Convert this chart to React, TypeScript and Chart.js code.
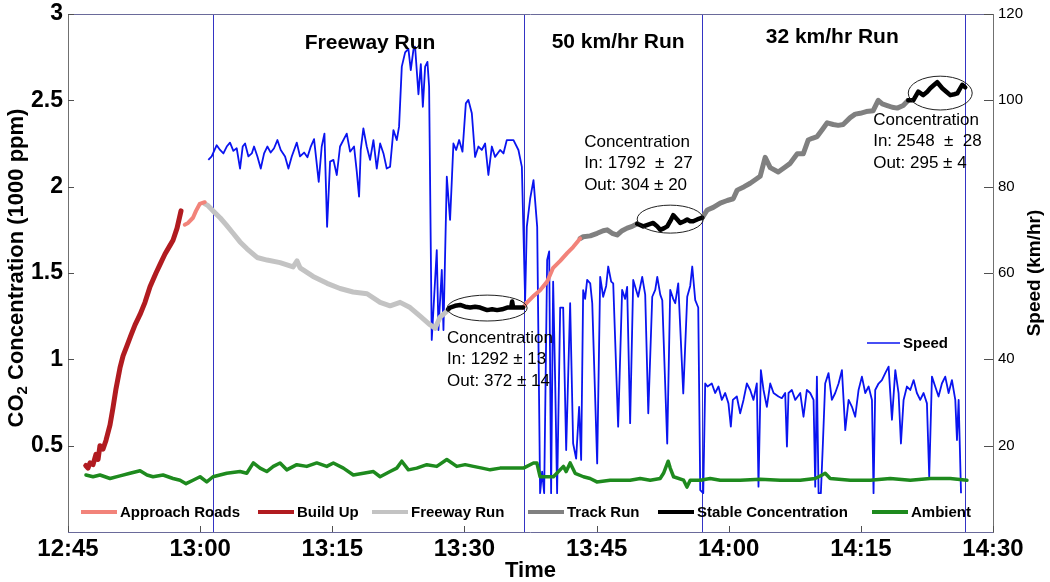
import React, { useEffect, useRef } from 'react';
import { Chart, registerables } from 'chart.js';

Chart.register(...registerables);

// ---------- axis ticks ----------
const xTickLabels = ['12:45', '13:00', '13:15', '13:30', '13:45', '14:00', '14:15', '14:30'];
// minutes after 12:45
const runBoundaries = [16.46, 51.78, 72.0, 101.85];

// ---------- CO2 (1000 ppm) ----------
const buildUpTime = [2.01, 2.27, 2.5, 2.84, 3.18, 3.41, 3.63, 3.97, 4.31, 4.77, 5.11, 5.45, 5.9, 6.25, 6.7, 7.15, 7.61, 8.18, 8.74, 9.31, 9.99, 10.45, 11.01, 11.58, 11.92, 12.38, 12.83];
const buildUpCO2 = [0.385, 0.37, 0.4, 0.39, 0.45, 0.42, 0.5, 0.48, 0.53, 0.62, 0.72, 0.83, 0.95, 1.02, 1.08, 1.14, 1.2, 1.26, 1.33, 1.42, 1.5, 1.55, 1.61, 1.66, 1.69, 1.76, 1.86];

const approach1Time = [13.25, 13.63, 14.19, 14.53, 14.95, 15.52];
const approach1CO2 = [1.78, 1.79, 1.82, 1.86, 1.9, 1.91];

const freewayTime = [15.56, 15.9, 16.46, 17.26, 17.94, 18.74, 19.53, 20.32, 21.46, 22.6, 24.07, 25.55, 26.0, 26.34, 27.82, 29.41, 30.88, 32.36, 33.95, 35.43, 36.56, 37.7, 38.83, 39.97, 41.1, 41.67, 42.24, 43.15];
const freewayCO2 = [1.9, 1.89, 1.86, 1.82, 1.78, 1.73, 1.68, 1.64, 1.59, 1.575, 1.56, 1.535, 1.57, 1.53, 1.48, 1.44, 1.41, 1.39, 1.38, 1.33, 1.31, 1.33, 1.3, 1.25, 1.2, 1.18, 1.245, 1.285];

const stable1Time = [43.15, 43.37, 43.94, 44.51, 45.08, 45.65, 46.21, 46.78, 47.58, 48.14, 48.71, 49.28, 49.85, 50.3, 50.42, 50.53, 51.1, 51.66];
const stable1CO2 = [1.29, 1.3, 1.31, 1.315, 1.305, 1.3, 1.305, 1.3, 1.285, 1.29, 1.285, 1.29, 1.3, 1.3, 1.335, 1.3, 1.3, 1.3];

const approach2Time = [51.66, 52.12, 52.91, 53.59, 54.39, 55.07, 55.87, 56.66, 57.34, 58.14];
const approach2CO2 = [1.3, 1.33, 1.37, 1.4, 1.45, 1.53, 1.57, 1.615, 1.65, 1.7];

const track50Time = [58.14, 58.48, 59.28, 60.07, 60.75, 61.2, 61.77, 62.33, 62.9, 63.47, 64.04, 64.61];
const track50CO2 = [1.7, 1.71, 1.715, 1.73, 1.745, 1.75, 1.73, 1.72, 1.745, 1.76, 1.77, 1.785];

const stable2Time = [64.61, 65.3, 65.87, 66.43, 66.89, 67.23, 67.68, 68.02, 68.36, 68.7, 69.16, 69.5, 69.95, 70.29, 70.63, 70.97, 71.43, 72.0];
const stable2CO2 = [1.785, 1.77, 1.78, 1.79, 1.77, 1.75, 1.76, 1.77, 1.8, 1.835, 1.81, 1.79, 1.8, 1.81, 1.8, 1.8, 1.81, 1.82];

const track32Time = [72.0, 72.57, 73.25, 74.04, 74.83, 75.51, 75.96, 76.76, 77.44, 78.01, 78.57, 79.14, 79.71, 80.62, 81.3, 81.98, 82.78, 83.46, 84.02, 84.48, 85.04, 85.61, 86.18, 86.86, 87.43, 87.99, 88.79, 89.36, 89.93, 90.61, 91.4, 91.97, 92.43, 93.0, 93.56, 94.13, 94.81, 95.38];
const track32CO2 = [1.82, 1.865, 1.88, 1.905, 1.92, 1.93, 1.98, 2.0, 2.02, 2.04, 2.06, 2.17, 2.11, 2.085, 2.11, 2.135, 2.19, 2.19, 2.27, 2.28, 2.29, 2.33, 2.37, 2.36, 2.355, 2.36, 2.4, 2.42, 2.425, 2.435, 2.44, 2.5, 2.48, 2.47, 2.46, 2.455, 2.47, 2.5];

const stable3Time = [95.38, 95.95, 96.52, 97.08, 97.54, 97.88, 98.33, 98.67, 99.24, 99.7, 100.15, 100.6, 100.95, 101.28, 101.51, 101.85];
const stable3CO2 = [2.5, 2.5, 2.55, 2.53, 2.55, 2.57, 2.59, 2.605, 2.57, 2.55, 2.53, 2.535, 2.54, 2.57, 2.59, 2.575];

const ambientTime = [2.04, 2.84, 3.63, 4.77, 5.9, 7.04, 8.18, 8.97, 9.65, 10.79, 11.92, 12.72, 13.4, 14.19, 14.99, 15.75, 16.46, 18.02, 19.53, 20.29, 21.04, 21.8, 22.56, 23.31, 24.07, 24.83, 25.97, 27.1, 28.24, 29.37, 30.12, 31.26, 32.39, 33.53, 34.67, 35.43, 36.56, 37.32, 37.89, 38.64, 39.59, 40.73, 41.86, 43.0, 44.13, 45.08, 46.02, 47.01, 47.92, 49.05, 50.19, 51.7, 52.84, 53.22, 53.59, 55.1, 56.24, 56.55, 57.0, 57.57, 58.51, 59.27, 60.03, 61.54, 62.68, 63.81, 64.95, 66.09, 67.22, 67.6, 68.13, 68.36, 68.74, 69.88, 70.26, 70.63, 71.77, 72.9, 74.03, 76.3, 78.57, 80.85, 83.12, 84.82, 85.61, 85.95, 86.52, 88.79, 91.06, 93.33, 95.61, 97.88, 100.15, 102.04];
const ambientCO2 = [0.33, 0.32, 0.33, 0.31, 0.325, 0.34, 0.355, 0.33, 0.32, 0.33, 0.31, 0.3, 0.28, 0.3, 0.32, 0.29, 0.32, 0.34, 0.35, 0.34, 0.4, 0.37, 0.35, 0.38, 0.4, 0.36, 0.39, 0.38, 0.4, 0.38, 0.4, 0.37, 0.33, 0.34, 0.35, 0.32, 0.35, 0.37, 0.41, 0.36, 0.37, 0.39, 0.38, 0.42, 0.38, 0.39, 0.38, 0.37, 0.36, 0.37, 0.37, 0.37, 0.4, 0.4, 0.32, 0.32, 0.38, 0.35, 0.4, 0.34, 0.32, 0.31, 0.29, 0.3, 0.3, 0.3, 0.31, 0.3, 0.31, 0.34, 0.41, 0.37, 0.32, 0.3, 0.26, 0.3, 0.3, 0.31, 0.3, 0.3, 0.305, 0.3, 0.3, 0.31, 0.33, 0.34, 0.31, 0.3, 0.3, 0.31, 0.3, 0.31, 0.31, 0.3];

// ---------- speed (km/hr) ----------
const freewaySpeedTime = [15.93, 16.31, 16.88, 17.26, 17.64, 18.02, 18.39, 18.77, 19.15, 19.53, 19.83, 20.1, 20.48, 20.86, 21.12, 21.5, 21.88, 22.26, 22.63, 23.01, 23.39, 23.77, 24.15, 24.64, 25.02, 25.4, 25.97, 26.34, 26.8, 27.18, 27.56, 27.93, 28.46, 28.8, 29.11, 29.41, 29.75, 30.13, 30.51, 30.88, 31.64, 32.02, 32.47, 32.78, 33.04, 33.23, 33.53, 33.91, 34.29, 34.67, 35.05, 35.43, 35.81, 36.18, 36.56, 36.94, 37.32, 37.58, 37.89, 38.27, 38.64, 38.91, 39.21, 39.4, 39.78, 40.05, 40.28, 40.54, 40.8, 40.99, 41.29, 41.86, 42.05, 42.43, 42.62, 43.0, 43.37, 43.57, 43.75, 44.06, 44.4, 44.78, 45.16, 45.45, 45.84, 46.21, 46.59, 46.97, 47.35, 47.72, 48.11, 48.48, 49.05, 49.43, 49.81, 50.57, 51.13, 51.52, 51.89, 52.08, 52.46, 52.84, 53.26];
const freewaySpeed = [86.2, 87.0, 89.6, 88.5, 87.7, 89.3, 90.2, 88.3, 88.9, 84.2, 89.3, 90.0, 87.0, 87.7, 89.3, 87.0, 84.2, 87.7, 89.3, 87.9, 88.9, 90.8, 88.5, 87.0, 84.2, 87.0, 90.2, 87.0, 87.9, 86.8, 89.3, 91.0, 81.1, 89.3, 92.3, 70.7, 85.8, 86.2, 82.7, 89.3, 92.3, 88.1, 89.3, 83.5, 77.7, 88.5, 93.5, 89.3, 86.2, 90.8, 84.2, 90.0, 87.7, 84.2, 84.6, 93.1, 90.8, 93.9, 107.8, 111.1, 111.9, 107.0, 111.7, 112.4, 101.4, 108.4, 98.5, 107.8, 108.9, 103.2, 44.5, 65.3, 46.8, 60.7, 46.8, 82.3, 72.3, 81.5, 90.0, 88.5, 90.8, 88.1, 99.3, 100.1, 97.0, 86.9, 89.3, 88.5, 90.0, 82.7, 89.3, 86.9, 88.5, 87.7, 90.8, 90.8, 88.5, 84.6, 53.7, 70.7, 77.2, 81.5, 70.7];

const run50SpeedTime = [53.59, 53.82, 54.05, 54.39, 54.62, 54.84, 55.07, 55.3, 55.52, 55.87, 56.21, 56.55, 57.0, 57.34, 57.68, 58.02, 58.25, 58.48, 58.7, 58.93, 59.28, 59.51, 60.07, 60.41, 60.75, 61.09, 61.32, 61.66, 61.89, 62.45, 62.9, 63.24, 63.47, 63.81, 64.16, 64.5, 64.72, 65.18, 65.52, 65.87, 66.32, 66.66, 66.89, 67.23, 67.46, 68.02, 68.36, 68.7, 68.93, 69.27, 69.84, 70.29, 70.63, 70.86, 71.2, 71.54, 71.77, 72.11];
const run50Speed = [9.0, 14.0, 9.0, 63.0, 65.0, 9.0, 58.0, 35.0, 9.0, 52.0, 52.0, 19.0, 53.0, 20.5, 17.0, 29.0, 16.7, 56.0, 54.0, 58.4, 57.6, 53.0, 15.9, 59.1, 54.5, 57.0, 61.5, 58.0, 57.6, 24.4, 56.1, 54.0, 56.8, 25.2, 58.4, 56.0, 54.5, 59.1, 55.0, 27.5, 54.5, 56.1, 59.1, 55.0, 53.7, 20.5, 56.1, 54.0, 53.0, 57.6, 32.1, 54.5, 57.0, 61.5, 53.7, 52.0, 9.7, 9.0];

const run32SpeedTime = [72.33, 72.59, 73.08, 73.46, 73.84, 74.22, 74.6, 74.97, 75.24, 75.47, 75.92, 76.3, 76.68, 77.06, 77.44, 77.81, 78.19, 78.38, 78.65, 78.95, 79.33, 79.71, 80.09, 80.65, 81.03, 81.41, 81.61, 81.79, 82.17, 82.55, 83.12, 83.49, 83.87, 84.25, 84.63, 84.82, 85.01, 85.2, 85.46, 85.69, 85.95, 86.33, 86.71, 87.09, 87.47, 87.85, 88.23, 88.61, 88.99, 89.36, 89.74, 90.12, 90.5, 90.88, 91.26, 91.44, 91.63, 92.01, 92.39, 92.77, 93.15, 93.53, 93.91, 94.28, 94.55, 94.85, 95.23, 95.61, 95.99, 96.36, 96.74, 97.12, 97.5, 97.76, 98.07, 98.44, 98.82, 99.2, 99.58, 99.96, 100.34, 100.72, 100.91, 101.1, 101.37];
const run32Speed = [34.4, 33.7, 34.4, 32.2, 33.7, 30.6, 32.2, 29.8, 24.4, 30.6, 31.4, 27.5, 30.6, 34.4, 32.9, 30.6, 34.4, 10.5, 37.5, 32.9, 29.0, 34.4, 32.2, 31.4, 31.0, 32.2, 19.8, 32.2, 32.9, 30.6, 32.2, 26.7, 32.9, 32.2, 30.6, 10.5, 36.0, 9.0, 9.0, 20.5, 34.4, 36.8, 30.6, 32.2, 34.4, 37.5, 23.6, 30.6, 29.0, 26.7, 32.9, 36.0, 32.2, 33.7, 30.6, 9.0, 32.9, 34.4, 35.2, 36.8, 38.3, 26.0, 37.5, 32.2, 20.5, 30.6, 33.7, 32.9, 35.2, 32.2, 30.6, 32.2, 29.8, 12.8, 36.0, 33.7, 31.4, 34.4, 36.0, 32.2, 35.2, 30.6, 21.3, 30.6, 9.0];

// ---------- annotations ----------
const regionLabels = ['Freeway Run', '50 km/hr Run', '32 km/hr Run'];
const regionLabelTime = [34.29, 62.45, 86.75];
const regionLabelCO2 = [2.831, 2.837, 2.866];

const noteLines = [
  ['Concentration', 'In: 1292 \u00b1 13', 'Out: 372 \u00b1 14'],
  ['Concentration', 'In: 1792  \u00b1  27', 'Out: 304 \u00b1 20'],
  ['Concentration', 'In: 2548  \u00b1  28', 'Out: 295 \u00b1 4'],
];
const noteTime = [43.03, 58.59, 91.4];
const noteCO2 = [1.123, 2.258, 2.386];

// ellipses around stable segments: centre time, centre CO2, half-width (min), half-height (1000 ppm)
const ellipseTime = [47.58, 68.36, 99.01];
const ellipseCO2 = [1.297, 1.812, 2.542];
const ellipseHalfTime = [4.54, 3.75, 3.63];
const ellipseHalfCO2 = [0.075, 0.081, 0.098];

const legendLabels = ['Approach Roads', 'Build Up', 'Freeway Run', 'Track Run', 'Stable Concentration', 'Ambient'];

// ---------- styles ----------
const FONT = "'Liberation Sans', Arial, Helvetica, sans-serif";
const approachColor = '#F2837A';
const buildUpColor = '#B11B20';
const freewayColor = '#C3C3C3';
const trackColor = '#808080';
const stableColor = '#000000';
const ambientColor = '#1E8A1E';
const speedColor = '#0A14F0';
const boundaryColor = '#3434C4';
const legendColors = [approachColor, buildUpColor, freewayColor, trackColor, stableColor, ambientColor];
const legendLineStart = [81, 258, 372, 528, 658, 872];

const pts = (t: number[], v: number[]) => t.map((tt, i) => ({ x: tt, y: v[i] }));

const overlayPlugin = {
  id: 'overlay',
  beforeDatasetsDraw(chart: any) {
    const { ctx, chartArea: a, scales } = chart;
    const x = scales.x;
    ctx.save();
    ctx.strokeStyle = boundaryColor;
    ctx.lineWidth = 1;
    for (const t of runBoundaries) {
      const px = Math.round(x.getPixelForValue(t)) + 0.5;
      ctx.beginPath();
      ctx.moveTo(px, a.top);
      ctx.lineTo(px, a.bottom);
      ctx.stroke();
    }
    ctx.restore();
  },
  afterDatasetsDraw(chart: any) {
    const { ctx, chartArea: a, scales } = chart;
    const x = scales.x;
    const y = scales.y;
    const y2 = scales.y2;
    ctx.save();

    // ellipses
    ctx.strokeStyle = '#202020';
    ctx.lineWidth = 1;
    for (let i = 0; i < ellipseTime.length; i++) {
      const cx = x.getPixelForValue(ellipseTime[i]);
      const cy = y.getPixelForValue(ellipseCO2[i]);
      const rx = Math.abs(x.getPixelForValue(ellipseTime[i] + ellipseHalfTime[i]) - cx);
      const ry = Math.abs(y.getPixelForValue(ellipseCO2[i] + ellipseHalfCO2[i]) - cy);
      ctx.beginPath();
      ctx.ellipse(cx, cy, rx, ry, 0, 0, Math.PI * 2);
      ctx.stroke();
    }

    // region labels
    ctx.fillStyle = '#000';
    ctx.font = `bold 21px ${FONT}`;
    ctx.textAlign = 'center';
    ctx.textBaseline = 'middle';
    regionLabels.forEach((lab, i) => {
      ctx.fillText(lab, x.getPixelForValue(regionLabelTime[i]), y.getPixelForValue(regionLabelCO2[i]));
    });

    // concentration notes
    ctx.font = `17px ${FONT}`;
    ctx.textAlign = 'left';
    noteLines.forEach((lines, i) => {
      const px = x.getPixelForValue(noteTime[i]);
      const py = y.getPixelForValue(noteCO2[i]);
      lines.forEach((ln, j) => ctx.fillText(ln, px, py + j * 21.5));
    });

    // bottom legend
    ctx.font = `bold 15px ${FONT}`;
    ctx.textBaseline = 'middle';
    legendLabels.forEach((lab, i) => {
      const sx = legendLineStart[i];
      ctx.strokeStyle = legendColors[i];
      ctx.lineWidth = 4;
      ctx.beginPath();
      ctx.moveTo(sx, 512);
      ctx.lineTo(sx + 36, 512);
      ctx.stroke();
      ctx.fillStyle = '#000';
      ctx.fillText(lab, sx + 39, 513);
    });

    // speed legend
    ctx.strokeStyle = speedColor;
    ctx.lineWidth = 1.5;
    ctx.beginPath();
    ctx.moveTo(867, 343);
    ctx.lineTo(900, 343);
    ctx.stroke();
    ctx.fillText('Speed', 903, 344);

    // frame
    ctx.lineWidth = 1;
    ctx.strokeStyle = '#6a6a9a';
    ctx.beginPath();
    ctx.moveTo(a.left, Math.round(a.top) + 0.5);
    ctx.lineTo(a.right, Math.round(a.top) + 0.5);
    ctx.moveTo(a.left, Math.round(a.bottom) + 0.5);
    ctx.lineTo(a.right, Math.round(a.bottom) + 0.5);
    ctx.stroke();
    ctx.strokeStyle = '#707070';
    ctx.beginPath();
    ctx.moveTo(Math.round(a.left) + 0.5, a.top);
    ctx.lineTo(Math.round(a.left) + 0.5, a.bottom);
    ctx.moveTo(Math.round(a.right) + 0.5, a.top);
    ctx.lineTo(Math.round(a.right) + 0.5, a.bottom + 1);
    ctx.stroke();

    // inward ticks
    ctx.strokeStyle = '#505050';
    ctx.beginPath();
    for (const tk of x.ticks) {
      const px = Math.round(x.getPixelForValue(tk.value)) + 0.5;
      ctx.moveTo(px, a.bottom);
      ctx.lineTo(px, a.bottom - 6);
    }
    for (const tk of y.ticks) {
      if (tk.value === 0) continue;
      const py = Math.round(y.getPixelForValue(tk.value)) + 0.5;
      ctx.moveTo(a.left, py);
      ctx.lineTo(a.left + 6, py);
    }
    for (const tk of y2.ticks) {
      if (tk.value === 0) continue;
      const py = Math.round(y2.getPixelForValue(tk.value)) + 0.5;
      ctx.moveTo(a.right, py);
      ctx.lineTo(a.right - 9, py);
    }
    ctx.stroke();

    // axis titles
    ctx.fillStyle = '#000';
    ctx.textBaseline = 'middle';
    const midY = (a.top + a.bottom) / 2 - 5;
    ctx.save();
    ctx.translate(17, midY);
    ctx.rotate(-Math.PI / 2);
    const big = `bold 22px ${FONT}`;
    const small = `bold 15px ${FONT}`;
    ctx.font = big;
    const w1 = ctx.measureText('CO').width;
    const w3 = ctx.measureText(' Concentration (1000 ppm)').width;
    ctx.font = small;
    const w2 = ctx.measureText('2').width;
    let sx = -(w1 + w2 + w3) / 2;
    ctx.textAlign = 'left';
    ctx.font = big;
    ctx.fillText('CO', sx, 0);
    sx += w1;
    ctx.font = small;
    ctx.fillText('2', sx, 6);
    sx += w2;
    ctx.font = big;
    ctx.fillText(' Concentration (1000 ppm)', sx, 0);
    ctx.restore();

    ctx.save();
    ctx.translate(1035, (a.top + a.bottom) / 2);
    ctx.rotate(-Math.PI / 2);
    ctx.textAlign = 'center';
    ctx.font = `bold 19px ${FONT}`;
    ctx.fillText('Speed (km/hr)', 0, 0);
    ctx.restore();

    ctx.textAlign = 'center';
    ctx.font = `bold 22px ${FONT}`;
    ctx.fillText('Time', (a.left + a.right) / 2, 571);

    ctx.restore();
  },
};

export default function App() {
  const canvasRef = useRef<HTMLCanvasElement | null>(null);

  useEffect(() => {
    document.body.style.margin = '0';
    const canvas = canvasRef.current;
    if (!canvas) return;

    const co2Line = (label: string, data: any[], color: string, width: number) => ({
      label,
      data,
      borderColor: color,
      backgroundColor: color,
      borderWidth: width,
      borderJoinStyle: 'round',
      borderCapStyle: 'round',
      pointRadius: 0,
      fill: false,
      tension: 0,
      yAxisID: 'y',
    });

    const chart = new Chart(canvas, {
      type: 'line',
      data: {
        datasets: [
          co2Line('Stable Concentration', pts(stable1Time, stable1CO2), stableColor, 4.5),
          co2Line('Stable Concentration 2', pts(stable2Time, stable2CO2), stableColor, 4.5),
          co2Line('Stable Concentration 3', pts(stable3Time, stable3CO2), stableColor, 4.5),
          co2Line('Build Up', pts(buildUpTime, buildUpCO2), buildUpColor, 5),
          co2Line('Approach Roads', pts(approach1Time, approach1CO2), approachColor, 4),
          co2Line('Approach Roads 2', pts(approach2Time, approach2CO2), approachColor, 4),
          co2Line('Freeway Run', pts(freewayTime, freewayCO2), freewayColor, 5),
          co2Line('Track Run', pts(track50Time, track50CO2), trackColor, 5),
          co2Line('Track Run 2', pts(track32Time, track32CO2), trackColor, 5),
          co2Line('Ambient', pts(ambientTime, ambientCO2), ambientColor, 3.5),
          {
            label: 'Speed',
            data: [
              ...pts(freewaySpeedTime, freewaySpeed),
              ...pts(run50SpeedTime, run50Speed),
              ...pts(run32SpeedTime, run32Speed),
            ],
            borderColor: speedColor,
            backgroundColor: speedColor,
            borderWidth: 1.8,
            borderJoinStyle: 'round',
            pointRadius: 0,
            fill: false,
            tension: 0,
            yAxisID: 'y2',
          },
        ],
      },
      options: {
        animation: false,
        responsive: false,
        events: [],
        layout: { padding: { top: 14, left: 0, right: 0, bottom: 0 } },
        plugins: { legend: { display: false }, tooltip: { enabled: false } },
        scales: {
          x: {
            type: 'linear',
            min: 0,
            max: 105,
            afterFit: (s: any) => { s.height = 50; },
            grid: { display: false, drawTicks: false },
            border: { display: false },
            ticks: {
              stepSize: 15,
              autoSkip: false,
              maxRotation: 0,
              padding: 5,
              color: '#000',
              font: { family: FONT, size: 24, weight: 'bold', lineHeight: 1 },
              callback: (v: any) => xTickLabels[Math.round(Number(v) / 15)] ?? '',
            },
          },
          y: {
            type: 'linear',
            position: 'left',
            min: 0,
            max: 3,
            afterFit: (s: any) => { s.width = 68; },
            grid: { display: false, drawTicks: false },
            border: { display: false },
            ticks: {
              stepSize: 0.5,
              padding: 5,
              color: '#000',
              font: { family: FONT, size: 23, weight: 'bold', lineHeight: 0.7 },
              callback: (v: any) => (Number(v) === 0 ? '' : String(v)),
            },
          },
          y2: {
            type: 'linear',
            position: 'right',
            min: 0,
            max: 120,
            afterFit: (s: any) => { s.width = 57; },
            grid: { display: false, drawTicks: false },
            border: { display: false },
            ticks: {
              stepSize: 20,
              padding: 5,
              color: '#000',
              font: { family: FONT, size: 15, lineHeight: 0.8 },
              callback: (v: any) => (Number(v) === 0 ? '' : String(v)),
            },
          },
        },
      },
      plugins: [overlayPlugin],
    } as any);

    return () => chart.destroy();
  }, []);

  return (
    <div style={{ width: 1050, height: 582 }}>
      <canvas ref={canvasRef} width={1050} height={582} style={{ display: 'block' }} />
    </div>
  );
}
